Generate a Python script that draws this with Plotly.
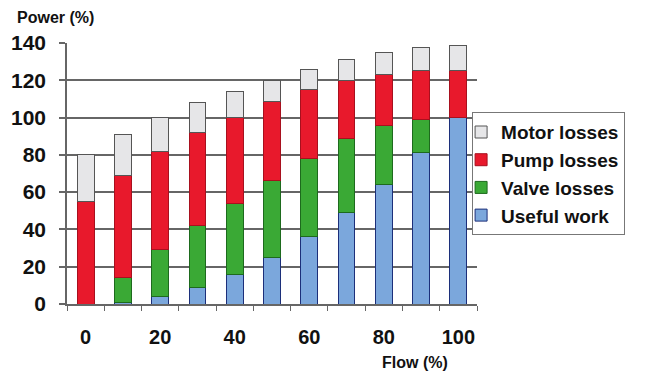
import plotly.graph_objects as go

flow = [0, 10, 20, 30, 40, 50, 60, 70, 80, 90, 100]
useful_work = [0, 1, 4, 9, 16, 25, 36, 49, 64, 81, 100]
valve_losses = [0, 13, 25, 33, 38, 41, 42, 40, 32, 18, 0]
pump_losses = [55, 55, 53, 50, 46, 42.5, 37, 31, 27, 26.5, 25]
motor_losses = [25, 22, 18, 16, 14, 11.5, 11, 11, 12, 12, 13.4]
x_tick_vals = [0, 20, 40, 60, 80, 100]
x_tick_text = ["0", "20", "40", "60", "80", "100"]
y_tick_vals = [0, 20, 40, 60, 80, 100, 120, 140]

FONT = "Liberation Sans, Arial, sans-serif"

series = [
    ("Useful work", useful_work, "#7ba7dc", "#1c2f7a"),
    ("Valve losses", valve_losses, "#3aa935", "#1d6a1d"),
    ("Pump losses", pump_losses, "#e8192c", "#a8101e"),
    ("Motor losses", motor_losses, "#e6e6e8", "#555555"),
]

fig = go.Figure()
for name, vals, fill, line in series:
    fig.add_trace(go.Bar(
        x=flow, y=vals, name=name, width=4.5,
        marker=dict(color=fill, line=dict(color=line, width=1)),
    ))

# page body has an 8px margin, so the figure is 8px smaller and margins shifted
fig.update_layout(
    barmode="stack",
    width=642, height=366,
    margin=dict(l=59, r=173, t=35, b=70, autoexpand=False),
    paper_bgcolor="white", plot_bgcolor="white",
    font=dict(family=FONT, color="#111111"),
    legend=dict(
        x=0.988, xanchor="left", y=0.735, yanchor="top",
        traceorder="reversed", indentation=-12,
        font=dict(family=FONT, size=19, weight="bold", color="#111111"),
        bordercolor="#777777", borderwidth=1, bgcolor="white",
        tracegroupgap=0, itemwidth=30,
    ),
    xaxis=dict(
        range=[-5, 105], tickmode="array", tickvals=x_tick_vals, ticktext=x_tick_text,
        ticks="", showgrid=False, showline=True, linecolor="#666666", linewidth=1.5,
        tickfont=dict(family=FONT, size=20, weight="bold", color="#111111"),
        ticklabelstandoff=14, automargin=False,
        minor=dict(tick0=-5, dtick=10, ticks="outside", ticklen=5, tickcolor="#666666", tickwidth=1, showgrid=False),
        zeroline=False,
    ),
    yaxis=dict(
        range=[0, 140], tickmode="array", tickvals=y_tick_vals,
        showgrid=True, gridcolor="#666666", gridwidth=1.5,
        ticks="outside", ticklen=6, tickcolor="#666666", tickwidth=1.5,
        showline=True, linecolor="#666666", linewidth=1.5,
        tickfont=dict(family=FONT, size=21, weight="bold", color="#111111"),
        ticklabelstandoff=9, zeroline=False, automargin=False,
    ),
    annotations=[
        dict(text="Power (%)", xref="paper", yref="paper", x=-0.127, y=1.0, yshift=26,
             xanchor="left", yanchor="middle", showarrow=False,
             font=dict(family=FONT, size=16, weight="bold", color="#111111")),
        dict(text="Flow (%)", xref="paper", yref="paper", x=0.848, y=0, yshift=-58,
             xanchor="center", yanchor="middle", showarrow=False,
             font=dict(family=FONT, size=16, weight="bold", color="#111111")),
    ],
)

fig.write_html("out.html")
